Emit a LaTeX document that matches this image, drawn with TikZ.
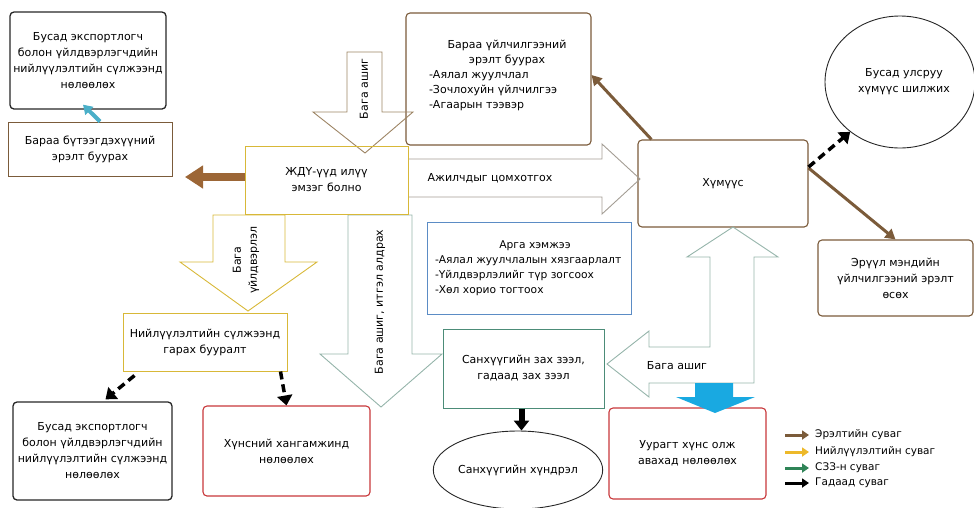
\documentclass[tikz,border=0pt]{standalone}
\usepackage{fontspec}
\setmainfont{DejaVu Sans}
\usetikzlibrary{arrows.meta,shapes.geometric,calc}
\definecolor{brd}{HTML}{7B5B3A}
\definecolor{brthick}{HTML}{9C6636}
\definecolor{gold}{HTML}{D8B838}
\definecolor{goldleg}{HTML}{EDB92A}
\definecolor{grgr}{HTML}{95B4AA}
\definecolor{topbr}{HTML}{9D8464}
\definecolor{grey}{HTML}{A39D94}
\definecolor{bluebox}{HTML}{5B8CC5}
\definecolor{redbox}{HTML}{C8373A}
\definecolor{teal}{HTML}{4AAFC8}
\definecolor{cyanfill}{HTML}{19A9E1}
\definecolor{sangreen}{HTML}{4C8C78}
\definecolor{leggreen}{HTML}{2F8457}
\begin{document}
\begin{tikzpicture}[x=1pt,y=-1pt,
  font=\fontsize{11}{16}\selectfont,
  rbox/.style={draw, rounded corners=4pt, align=center, inner sep=0pt, line width=1.1pt},
  sbox/.style={draw, align=center, inner sep=0pt, line width=1pt},
  blk/.style={line width=0.9pt, line join=miter},
  dsh/.style={line width=3.5pt, dash pattern=on 8pt off 5pt, -{Triangle[length=10pt,width=15pt]}},
  thinbr/.style={draw=brd, line width=3pt, -{Triangle[length=10pt,width=11pt]}},
  leg/.style={line width=3pt, -{Triangle[length=7pt,width=9pt]}}]
\path[use as bounding box] (0,0) rectangle (974,507);

% ---- boxes ----
\node[rbox, draw=black!85, line width=1.3pt, minimum width=156pt, minimum height=97pt] (A) at (88,60.5)
  {Бусад экспортлогч\\болон үйлдвэрлэгчдийн\\нийлүүлэлтийн сүлжээнд\\нөлөөлөх};
\node[sbox, draw=brd, minimum width=164pt, minimum height=54pt] (B) at (90,149)
  {Бараа бүтээгдэхүүний\\эрэлт буурах};
\node[rbox, draw=brd, minimum width=185pt, minimum height=132pt] (bar) at (498.5,79) {};
\node[inner sep=0pt, font=\fontsize{11}{15}\selectfont] (bart) at (507,75) {\parbox{156pt}{\centering Бараа үйлчилгээний\\эрэлт буурах\par\raggedright -Аялал жуулчлал\\-Зочлохуйн үйлчилгээ\\-Агаарын тээвэр\par}};
\node[rbox, draw=brd, minimum width=170pt, minimum height=87pt] (hum) at (723,183.5) {Хүмүүс};
\node[ellipse, draw=black!85, line width=0.9pt, minimum width=150pt, minimum height=132pt, inner sep=0pt, align=center] (ell1) at (900,82)
  {\hspace*{8pt}Бусад улсруу\\\hspace*{8pt}хүмүүс шилжих};
\node[rbox, draw=brd, minimum width=155pt, minimum height=76pt] (erv) at (895.5,278)
  {Эрүүл мэндийн\\үйлчилгээний эрэлт\\өсөх};
\node[sbox, draw=bluebox, minimum width=204pt, minimum height=92pt] (arga) at (529,268) {};
\node[inner sep=0pt, font=\fontsize{10.7}{15}\selectfont] (argat) at (535,268) {\parbox{200pt}{\centering Арга хэмжээ\par\raggedright -Аялал жуулчлалын хязгаарлалт\\-Үйлдвэрлэлийг түр зогсоох\\-Хөл хорио тогтоох\par}};
\node[sbox, draw=sangreen, minimum width=161pt, minimum height=79pt] (san) at (523.5,368.5)
  {Санхүүгийн зах зээл,\\гадаад зах зээл};
\node[ellipse, draw=black!85, line width=0.9pt, minimum width=167pt, minimum height=78pt, inner sep=0pt] (ell2) at (518,470)
  {Санхүүгийн хүндрэл};
\node[rbox, draw=redbox, minimum width=157pt, minimum height=91pt] (uur) at (687.5,453.5)
  {Уурагт хүнс олж\\авахад нөлөөлөх};
\node[sbox, draw=gold, minimum width=164pt, minimum height=58pt] (niy) at (205,342)
  {Нийлүүлэлтийн сүлжээнд\\гарах бууралт};
\node[rbox, draw=black!85, line width=1.3pt, minimum width=159pt, minimum height=98pt] (C) at (92.5,451)
  {Бусад экспортлогч\\болон үйлдвэрлэгчдийн\\нийлүүлэлтийн сүлжээнд\\нөлөөлөх};
\node[rbox, draw=redbox, minimum width=167pt, minimum height=90pt] (hun) at (286.5,451)
  {Хүнсний хангамжинд\\нөлөөлөх};

% ---- block arrows ----
\draw[blk, draw=topbr] (347,52) -- (382,52) -- (382,112) -- (413,112) -- (365,153) -- (313,112) -- (347,112) -- cycle;
\node[rotate=90] (baga1) at (364,89) {Бага ашиг};
\draw[blk, draw=grey] (408,159) -- (602,159) -- (602,144) -- (640,179) -- (602,214) -- (602,197) -- (408,197);
\node (ajil) at (490,178) {Ажилчдыг цомхотгох};
\draw[blk, draw=gold] (213,215) -- (285,215) -- (285,262) -- (317,262) -- (248,311) -- (180,262) -- (213,262) -- cycle;
\node[rotate=90, align=center] (baga2) at (246,260) {Бага\\үйлдвэрлэл};
\draw[blk, draw=grgr] (348,215) -- (412,215) -- (412,354) -- (442,354) -- (381,407) -- (320,354) -- (348,354) -- cycle;
\node[rotate=90] (baga3) at (380,302) {Бага ашиг, итгэл алдрах};
\draw[blk, draw=grgr] (710,257) -- (687,257) -- (733,227) -- (778,257) -- (754,257) -- (754,383) -- (649,383) -- (649,397) -- (607,364) -- (649,331) -- (649,347) -- (710,347) -- cycle;
\node (baga4) at (677,366) {Бага ашиг};
\fill[cyanfill] (695,383) -- (733,383) -- (733,397) -- (755,397) -- (715,413) -- (676,397) -- (695,397) -- cycle;

% ---- the ЖДҮ box ----
\node[sbox, draw=gold, minimum width=163pt, minimum height=68pt] (jdu) at (326.5,180)
  {ЖДҮ-үүд илүү\\эмзэг болно};

% ---- connectors ----
\coordinate (leftend) at (185,177);
\draw[draw=brthick, line width=8pt, -{Triangle[length=18pt,width=22pt]}] (jdu.west |- leftend) -- (leftend);
\draw[draw=teal, line width=4pt, -{Triangle[length=9pt,width=11pt]}] ([xshift=10pt]B.north) -- ([xshift=-5pt,yshift=5pt]A.south);
\draw[thinbr] ([xshift=14pt]hum.north west) -- ([yshift=4pt]bar.east);
\draw[thinbr] ([yshift=15.5pt]hum.east) -- (erv.north);
\draw[dsh] ([yshift=16.5pt]hum.east) -- (ell1.225);
\draw[dsh] ([xshift=12pt,yshift=-4pt]niy.south west) -- ([xshift=13pt,yshift=2pt]C.north);
\draw[dsh] ([xshift=-7pt]niy.south east) -- (hun.north);
\draw[line width=6pt, -{Triangle[length=10pt,width=15pt]}] ([xshift=-2pt]san.south) -- ([xshift=-2pt]san.south |- ell2.north);

% ---- legend ----
\begin{scope}[font=\fontsize{10.5}{12}\selectfont]
\node[anchor=west, inner sep=0pt] (l1) at (815,435) {Эрэлтийн суваг};
\node[anchor=west, inner sep=0pt] (l2) at (815,452) {Нийлүүлэлтийн суваг};
\node[anchor=west, inner sep=0pt] (l3) at (815,468) {СЗЗ-н суваг};
\node[anchor=west, inner sep=0pt] (l4) at (815,483) {Гадаад суваг};
\end{scope}
\coordinate (s1) at (785,435);
\coordinate (s2) at (785,452);
\coordinate (s3) at (785,468);
\coordinate (s4) at (785,483);
\draw[leg, draw=brd] (s1) -- ([xshift=-6pt]l1.west);
\draw[leg, draw=goldleg] (s2) -- ([xshift=-6pt]l2.west);
\draw[leg, draw=leggreen] (s3) -- ([xshift=-6pt]l3.west);
\draw[leg, draw=black] (s4) -- ([xshift=-6pt]l4.west);
\end{tikzpicture}
\end{document}
